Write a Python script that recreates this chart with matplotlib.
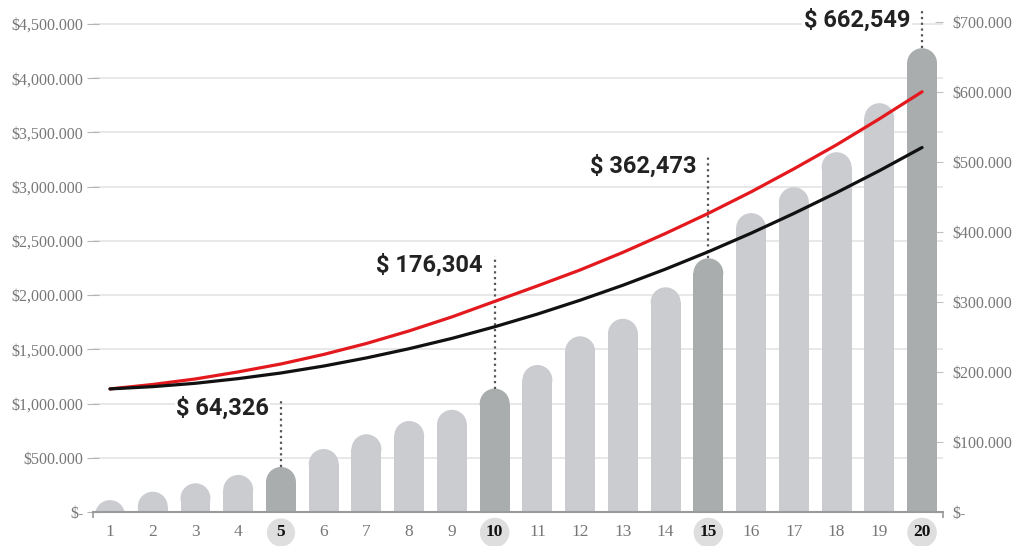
import matplotlib
matplotlib.use('Agg')
import matplotlib.pyplot as plt
from matplotlib.patches import Rectangle, Ellipse

# data
years = list(range(1, 21))
bar_values = [17000, 29000, 41000, 53000, 64326, 90000, 111000, 130000, 146000, 176304,
              210000, 251000, 276000, 321000, 362473, 427000, 464000, 514000, 584000, 662549]
red_line = [1135000, 1176000, 1227000, 1292000, 1365000, 1453000, 1554000, 1670000, 1799000, 1942000,
            2085000, 2232000, 2394000, 2569000, 2754000, 2952000, 3164000, 3386000, 3625000, 3875000]
black_line = [1135000, 1156000, 1187000, 1230000, 1282000, 1346000, 1421000, 1506000, 1601000, 1708000,
              1825000, 1953000, 2091000, 2240000, 2400000, 2571000, 2753000, 2945000, 3147000, 3361000]
highlight = [5, 10, 15, 20]
ann_labels = ['$ 64,326', '$ 176,304', '$ 362,473', '$ 662,549']

left_ticks = [0, 500000, 1000000, 1500000, 2000000, 2500000, 3000000, 3500000, 4000000, 4500000]
left_labels = ['$-', '$500.000', '$1,000.000', '$1,500.000', '$2,000.000', '$2,500.000',
               '$3,000.000', '$3,500.000', '$4,000.000', '$4,500.000']
right_ticks = [0, 100000, 200000, 300000, 400000, 500000, 600000, 700000]
right_labels = ['$-', '$100.000', '$200.000', '$300.000', '$400.000', '$500.000', '$600.000', '$700.000']

# layout
W, H = 1029, 546
ax_left, ax_bottom, ax_w, ax_h = 93, 34, 850, 490
xmin, xmax = 0.602, 20.49
left_top = 4500000 * 490 / 488
right_top = 700000
bar_w = 0.70
ann_y = [148600, 353000, 494000, 703000]

light = '#cbccd0'
dark = '#a9adad'
serif = 'Liberation Serif'

fig = plt.figure(figsize=(W / 100, H / 100), dpi=100)
ax = fig.add_axes([ax_left / W, ax_bottom / H, ax_w / W, ax_h / H])
ax2 = ax.twinx()
ax.set_zorder(ax2.get_zorder() + 1)
ax.patch.set_visible(False)

ax.set_xlim(xmin, xmax)
ax.set_ylim(0, left_top)
ax2.set_ylim(0, right_top)

# gridlines follow the left scale but sit behind the bars
for t in left_ticks[1:]:
    ax2.plot([0, 1], [t, t], transform=ax.get_yaxis_transform(), color='#e4e4e4', lw=1.2, zorder=0)

# bars with round tops
px_per_y = ax_h / right_top
ry = (bar_w * ax_w / (xmax - xmin)) / 2 / px_per_y
for x, v in zip(years, bar_values):
    c = dark if x in highlight else light
    if v > ry:
        ax2.add_patch(Rectangle((x - bar_w / 2, 0), bar_w, v - ry, fc=c, ec='none', zorder=2))
    ax2.add_patch(Ellipse((x, v - ry), bar_w, 2 * ry, fc=c, ec='none', zorder=2))

# annotations
for x, lab, ly in zip(highlight, ann_labels, ann_y):
    v = bar_values[years.index(x)]
    ax2.plot([x, x], [v, ly + 13000], ls=(0, (1, 1.6)), color='#555555', lw=1.6, clip_on=False, zorder=3)
    ax2.text(x - 0.28, ly, lab, ha='right', va='center', fontsize=17, fontweight='bold',
             family='Roboto', color='#222222', zorder=4,
             bbox=dict(fc='white', ec='none', pad=1))

# lines
ax.plot(years, red_line, color='#e3191e', lw=2.3, solid_capstyle='round', zorder=5)
ax.plot(years, black_line, color='#111111', lw=2.3, solid_capstyle='round', zorder=5)

# axes styling
for s in ['left', 'right', 'top']:
    ax.spines[s].set_visible(False)
for s in ax2.spines.values():
    s.set_visible(False)
ax.spines['bottom'].set_color('#9a9a9a')
ax.spines['bottom'].set_linewidth(1.5)

ax.set_yticks(left_ticks)
ax.set_yticklabels(left_labels, fontfamily=serif, fontsize=11.5, color='#777777')
ax.tick_params(axis='y', direction='inout', length=8, color='#b5b5b5', pad=3)

ax2.set_yticks(right_ticks)
ax2.set_yticklabels(right_labels, fontfamily=serif, fontsize=11.5, color='#777777')
ax2.tick_params(axis='y', direction='in', length=6, color='#c0c0c0', pad=7)

ax.set_xticks(years)
ax.set_xticklabels([str(y) for y in years], fontfamily=serif, fontsize=12.5, color='#777777')
ax.tick_params(axis='x', which='major', length=0, pad=9)
for lbl, y in zip(ax.get_xticklabels(), years):
    if y in highlight:
        lbl.set_fontweight('bold')
        lbl.set_color('#111111')
        lbl.set_bbox(dict(boxstyle='circle,pad=0.35', fc='#dedede', ec='none'))
ax.set_xticks([xmin, xmax], minor=True)
ax.tick_params(axis='x', which='minor', length=4, direction='out', color='#9a9a9a', width=1.2)

fig.savefig('out.png', dpi=100, facecolor='white')
